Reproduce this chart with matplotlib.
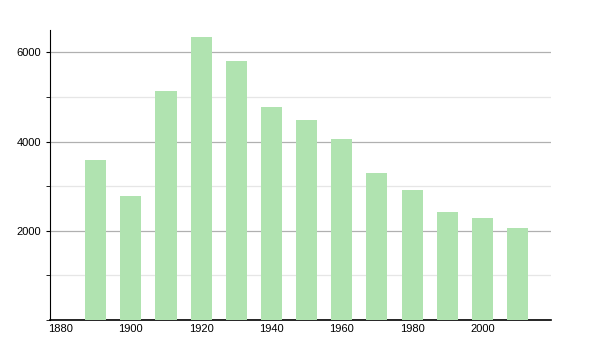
import matplotlib
matplotlib.use('Agg')
import matplotlib.pyplot as plt
from matplotlib.ticker import MultipleLocator

# --- DATA ---
years = [1890, 1900, 1910, 1920, 1930, 1940, 1950, 1960, 1970, 1980, 1990, 2000, 2010]
population = [3600, 2790, 5130, 6345, 5820, 4770, 4477, 4050, 3307, 2925, 2430, 2295, 2070]
x_ticks = [1880, 1900, 1920, 1940, 1960, 1980, 2000]
y_ticks = [2000, 4000, 6000]

plt.rcParams['font.family'] = ['Liberation Sans', 'DejaVu Sans']

fig = plt.figure(figsize=(6, 3.5), dpi=100)
ax = fig.add_axes([0.0833, 0.0857, 0.835, 0.828])

ax.bar(years, population, width=6, color='#b0e3b0', zorder=3)

ax.set_xlim(1877, 2019.5)
ax.set_ylim(0, 6500)
ax.set_xticks(x_ticks)
ax.set_yticks(y_ticks)
ax.yaxis.set_minor_locator(MultipleLocator(1000))

# gridlines: darker on majors, pale on minors
ax.grid(axis='y', which='major', color='#b0b0b0', linewidth=0.9, zorder=1)
ax.grid(axis='y', which='minor', color='#e6e6e6', linewidth=0.9, zorder=1)

for side in ['top', 'right']:
    ax.spines[side].set_visible(False)
ax.spines['left'].set_color('black')
ax.spines['bottom'].set_color('black')
ax.spines['bottom'].set_linewidth(1.2)

ax.tick_params(axis='x', length=0, labelsize=8, pad=3)
ax.tick_params(axis='y', which='major', length=3, labelsize=8)
ax.tick_params(axis='y', which='minor', length=3)

fig.savefig('out.png', dpi=100)
